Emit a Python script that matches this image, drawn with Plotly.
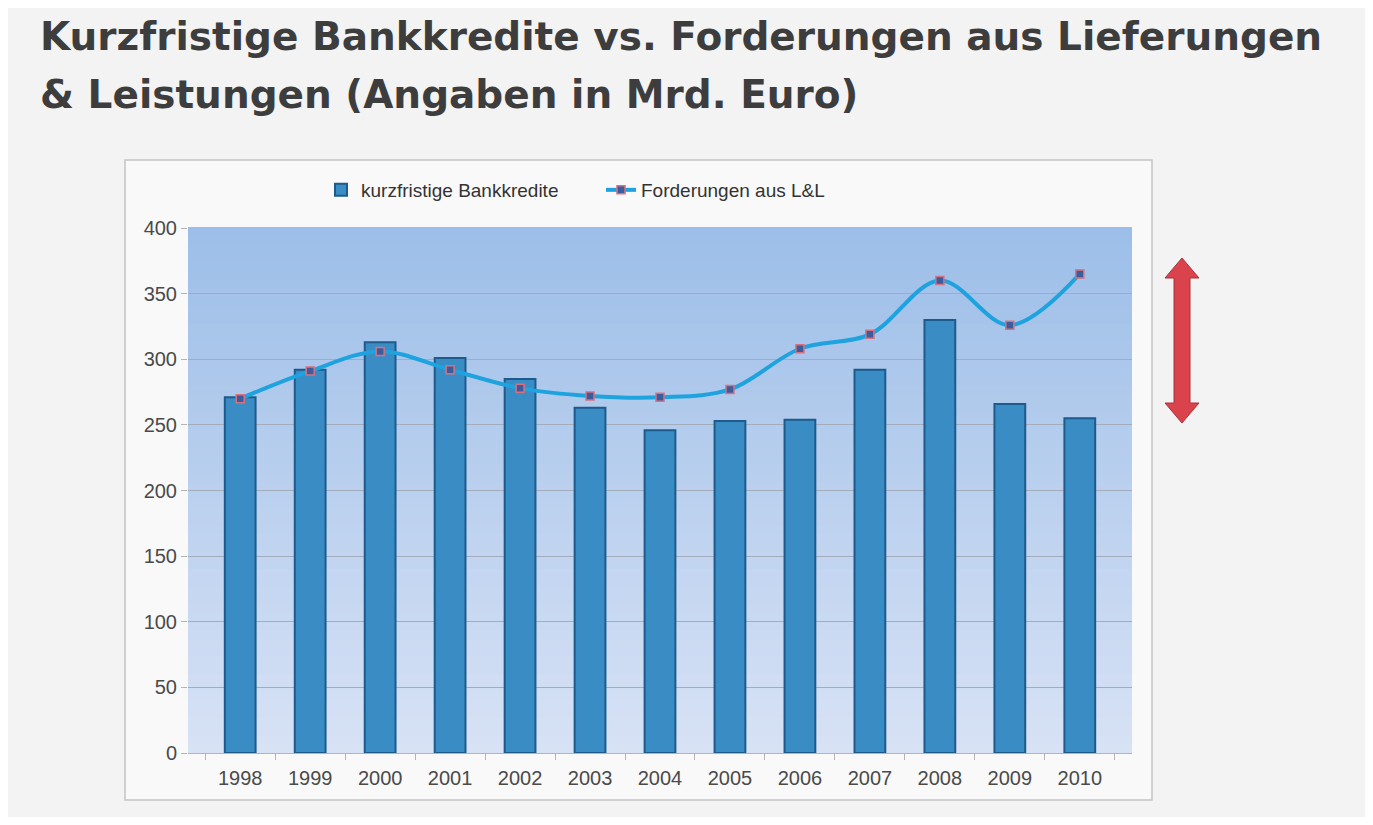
import plotly.graph_objects as go

# ---- data ----
years = ["1998", "1999", "2000", "2001", "2002", "2003", "2004",
         "2005", "2006", "2007", "2008", "2009", "2010"]
bankkredite = [271, 292, 313, 301, 285, 263, 246, 253, 254, 292, 330, 266, 255]
forderungen = [270, 291, 306, 292, 278, 272, 271, 277, 308, 319, 360, 326, 365]
y_ticks = [0, 50, 100, 150, 200, 250, 300, 350, 400]
series_names = ["kurzfristige Bankkredite", "Forderungen aus L&L"]
title_lines = ["Kurzfristige Bankkredite vs. Forderungen aus Lieferungen",
               "& Leistungen (Angaben in Mrd. Euro)"]

# ---- geometry (figure pixels; page body has 8px default margin) ----
W, H = 1357, 809
def px(x):
    return x / W
def py(y):
    return 1 - y / H

FONT = "Liberation Sans, Arial, sans-serif"
TFONT = "DejaVu Sans, Liberation Sans, sans-serif"

fig = go.Figure()
fig.add_trace(go.Bar(
    x=years, y=bankkredite, name=series_names[0],
    marker=dict(color="#3a8cc4", line=dict(color="#1d5b8c", width=2)),
))
fig.add_trace(go.Scatter(
    x=years, y=forderungen, name=series_names[1], mode="lines+markers",
    line=dict(color="#1ea3df", width=4, shape="spline", smoothing=1.0),
    marker=dict(symbol="square", size=8, color="#3d5c9c",
                line=dict(color="#d97080", width=1.5)),
))

shapes = []
# chart frame
shapes.append(dict(type="rect", xref="paper", yref="paper",
                   x0=px(117), x1=px(1144), y0=py(792), y1=py(152),
                   fillcolor="#f9f9f9", line=dict(color="#c4c4c4", width=1.5),
                   layer="below"))
# vertical gradient plot background
N = 60
top = (156, 190, 232)
bot = (216, 226, 245)
for i in range(N):
    t = (i + 0.5) / N
    c = tuple(round(bot[k] + (top[k] - bot[k]) * t) for k in range(3))
    shapes.append(dict(type="rect", xref="x domain", yref="y domain",
                       x0=0, x1=1, y0=i / N, y1=(i + 1) / N + 0.002,
                       fillcolor="rgb(%d,%d,%d)" % c, line=dict(width=0),
                       layer="below"))
# red double-headed arrow
cx = 1174
pts = [(cx - 8, 270), (cx - 17, 270), (cx, 250), (cx + 17, 270), (cx + 8, 270),
       (cx + 8, 395), (cx + 17, 395), (cx, 415), (cx - 17, 395), (cx - 8, 395)]
path = "M " + " L ".join("%.5f,%.5f" % (px(a), py(b)) for a, b in pts) + " Z"
shapes.append(dict(type="path", xref="paper", yref="paper", path=path,
                   fillcolor="#da434b", line=dict(color="#a8333a", width=1)))

annotations = [
    dict(text="<b>%s</b>" % title_lines[0], xref="paper", yref="paper",
         x=px(30), y=py(29), xanchor="left", yanchor="middle", showarrow=False,
         font=dict(family=TFONT, size=39, color="#3d3d3d")),
    dict(text="<b>%s</b>" % title_lines[1], xref="paper", yref="paper",
         x=px(30), y=py(86), xanchor="left", yanchor="middle", showarrow=False,
         font=dict(family=TFONT, size=39, color="#3d3d3d")),
]

fig.update_layout(
    width=W, height=H,
    margin=dict(l=0, r=0, t=0, b=0),
    paper_bgcolor="#f3f3f3",
    plot_bgcolor="rgba(0,0,0,0)",
    bargap=0.56,
    shapes=shapes,
    annotations=annotations,
    showlegend=True,
    legend=dict(orientation="h", x=px(593), y=py(182), xanchor="center",
                yanchor="middle", bgcolor="rgba(0,0,0,0)",
                font=dict(family=FONT, size=19, color="#333333"),
                traceorder="normal", itemwidth=30,
                entrywidth=235, entrywidthmode="pixels"),
    xaxis=dict(domain=[px(180), px(1124)], type="category",
               showgrid=False, showline=True, linecolor="#b4b4b4", linewidth=1,
               ticks="outside", tickson="boundaries", ticklen=6,
               tickcolor="#b4b4b4", ticklabelstandoff=7,
               tickfont=dict(family=FONT, size=20, color="#4a4a4a"),
               automargin=False),
    yaxis=dict(domain=[py(745), py(220)], range=[0, 400],
               tickvals=y_ticks, showgrid=True, gridcolor="#a4acbc",
               gridwidth=1, zeroline=False, showline=False,
               ticks="outside", ticklen=6, tickcolor="#b4b4b4",
               tickfont=dict(family=FONT, size=20, color="#4a4a4a"),
               automargin=False),
    font=dict(family=FONT),
)

fig.write_html("out.html")
